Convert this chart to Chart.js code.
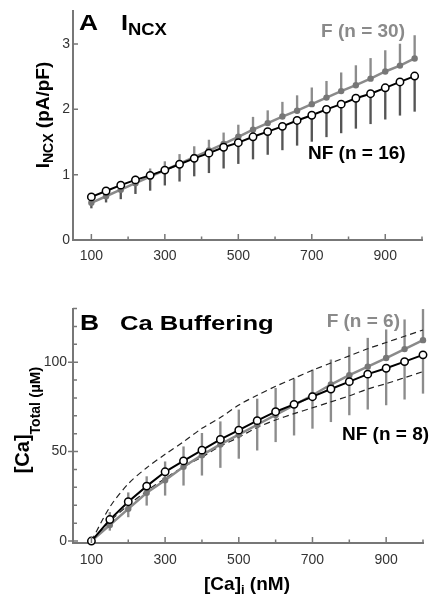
<!DOCTYPE html>
<html>
<head>
<meta charset="utf-8">
<script src="https://cdn.jsdelivr.net/npm/chart.js@4"></script>
<style>
  html, body { margin: 0; padding: 0; background: #fff; }
  #wrap { position: relative; width: 430px; height: 597px; }
  canvas { position: absolute; left: 0; }
</style>
</head>
<body>
<div id="wrap">
  <canvas id="ncx" width="430" height="285" style="top:0"></canvas>
  <canvas id="buf" width="430" height="312" style="top:285px"></canvas>
</div>
<script>
// panel A: I_NCX against [Ca]i, a point every 40 nM
const ncxCa = [100, 140, 180, 220, 260, 300, 340, 380, 420, 460, 500, 540, 580, 620, 660, 700, 740, 780, 820, 860, 900, 940, 980];
const ncxF = [0.57, 0.67, 0.77, 0.87, 0.97, 1.07, 1.17, 1.27, 1.37, 1.47, 1.58, 1.69, 1.79, 1.89, 1.98, 2.08, 2.18, 2.28, 2.37, 2.47, 2.58, 2.67, 2.78];
const ncxFTop = [0.65, 0.76, 0.87, 0.98, 1.09, 1.20, 1.31, 1.43, 1.53, 1.64, 1.76, 1.88, 1.98, 2.11, 2.21, 2.33, 2.43, 2.56, 2.67, 2.78, 2.90, 3.00, 3.13];
const ncxNF = [0.66, 0.75, 0.84, 0.92, 0.99, 1.07, 1.16, 1.25, 1.33, 1.42, 1.49, 1.58, 1.66, 1.74, 1.83, 1.91, 2.00, 2.08, 2.17, 2.24, 2.33, 2.42, 2.51];
const ncxNFLow = [0.49, 0.58, 0.63, 0.71, 0.76, 0.84, 0.90, 0.98, 1.03, 1.10, 1.17, 1.24, 1.31, 1.38, 1.45, 1.51, 1.58, 1.64, 1.71, 1.78, 1.85, 1.91, 1.97];

// panel B: total Ca against [Ca]i, a point every 50 nM
const bufCa = [100, 150, 200, 250, 300, 350, 400, 450, 500, 550, 600, 650, 700, 750, 800, 850, 900, 950, 1000];
const bufF = [0, 9, 18, 27, 34, 41.5, 48, 54, 59.5, 65, 70.5, 76, 81.5, 87.5, 92.7, 97.5, 102.3, 107.3, 112.3];
const bufFTop = [0, 16, 27, 36, 44.3, 52.7, 60.2, 66.7, 73.3, 79.4, 85.4, 90.5, 95.7, 101.3, 108.4, 113.4, 118.1, 123.7, 129.5];
const bufNF = [0, 12, 22, 30.7, 38.7, 44.8, 50.8, 56.8, 62, 67.3, 72.3, 76.4, 80.7, 85, 89.1, 93.3, 96.6, 100.3, 104.1];
const bufNFLow = [0, 6, 13.5, 20, 25.6, 31.2, 36.8, 41.1, 46.2, 50.8, 55.5, 59.2, 63, 66.7, 70.5, 73.7, 76.1, 79.3, 82.6];
const bufFitHigh = [0, 19, 32, 41, 48.5, 55.5, 63, 69, 76, 81.5, 86.5, 91, 95.5, 99.5, 103.5, 107.5, 111, 114.5, 118];
const bufFitLow = [0, 11, 20, 28, 35, 41.5, 47, 53, 58, 63.5, 67.7, 71.2, 74.5, 77.8, 81.2, 85, 88, 91.3, 94.7];

const xTickLabels = [100, 300, 500, 700, 900];
const xMinor = [200, 400, 600, 800, 1000];
const ncxYTicks = [0, 1, 2, 3];
const bufYTicks = [0, 50, 100];
const bufYMinor = [10, 20, 30, 40, 60, 70, 80, 90, 110, 120, 130];

const FONT = '"Liberation Sans", Arial, Helvetica, sans-serif';
const AXIS = '#777';
const GREY = '#8a8a8a';

function pts(xs, ys) { return xs.map((x, i) => ({ x: x, y: ys[i] })); }
function spans(xs, lo, hi) { return xs.map((x, i) => ({ x: x, y: [lo[i], hi[i]] })); }

// tick marks that point into the plot, as in the figure
const inTicks = {
  id: 'inTicks',
  afterDraw(chart, args, o) {
    const ctx = chart.ctx, x = chart.scales.x, y = chart.scales.y;
    ctx.save();
    ctx.strokeStyle = AXIS;
    ctx.lineWidth = 1.5;
    ctx.beginPath();
    (o.xMajor || []).forEach(v => { const p = x.getPixelForValue(v); ctx.moveTo(p, y.bottom); ctx.lineTo(p, y.bottom - 6); });
    (o.xMinor || []).forEach(v => { const p = x.getPixelForValue(v); ctx.moveTo(p, y.bottom); ctx.lineTo(p, y.bottom - 3.5); });
    (o.yMajor || []).forEach(v => { const p = y.getPixelForValue(v); ctx.moveTo(x.left - o.yOut, p); ctx.lineTo(x.left + 5, p); });
    (o.yMinor || []).forEach(v => { const p = y.getPixelForValue(v); ctx.moveTo(x.left, p); ctx.lineTo(x.left + 4, p); });
    ctx.stroke();
    ctx.restore();
  }
};

// panel letters, group labels and axis titles (with subscripts)
const annot = {
  id: 'annot',
  afterDraw(chart, args, o) {
    const ctx = chart.ctx;
    o.items.forEach(it => {
      ctx.save();
      ctx.translate(it.x, it.y);
      if (it.rot) ctx.rotate(it.rot);
      if (it.sx) ctx.scale(it.sx, 1);
      ctx.fillStyle = it.color || '#000';
      ctx.textBaseline = 'alphabetic';
      ctx.textAlign = 'left';
      let w = 0;
      it.parts.forEach(p => { ctx.font = 'bold ' + p.size + 'px ' + FONT; w += ctx.measureText(p.t).width; });
      let cx = it.align === 'right' ? -w : it.align === 'center' ? -w / 2 : 0;
      it.parts.forEach(p => {
        ctx.font = 'bold ' + p.size + 'px ' + FONT;
        ctx.fillText(p.t, cx, p.dy || 0);
        cx += ctx.measureText(p.t).width;
      });
      ctx.restore();
    });
  }
};

function barSet(data, color) {
  return { type: 'bar', data: data, backgroundColor: color, borderWidth: 0, barThickness: 1.7, grouped: false, clip: false, order: 6 };
}
function nfLine(data) {
  return { type: 'line', data: data, borderColor: '#000', borderWidth: 2, tension: 0, pointRadius: 3.7,
    pointBackgroundColor: '#fff', pointBorderColor: '#000', pointBorderWidth: 1.5, clip: false, order: 1 };
}
function fLine(data) {
  return { type: 'line', data: data, borderColor: GREY, borderWidth: 2.5, tension: 0, pointRadius: 3.2,
    pointBackgroundColor: '#777', pointBorderWidth: 0, clip: false, order: 2 };
}
function fitLine(data) {
  return { type: 'line', data: data, borderColor: '#222', borderWidth: 1.2, borderDash: [6, 4], tension: 0.3,
    pointRadius: 0, clip: false, order: 3 };
}

function xScale(height, pad) {
  return {
    type: 'linear', min: 50, max: 1000, offset: false,
    grid: { display: false, drawTicks: false },
    border: { display: true, color: AXIS, width: 2 },
    ticks: { font: { family: FONT, size: 14 }, color: '#333', padding: pad, maxRotation: 0, autoSkip: false },
    afterBuildTicks: s => { s.ticks = xTickLabels.map(v => ({ value: v })); },
    afterFit: s => { s.height = height; }
  };
}
function yScale(min, max, ticks, pad) {
  return {
    type: 'linear', min: min, max: max,
    grid: { display: false, drawTicks: false },
    border: { display: true, color: AXIS, width: 2 },
    ticks: { font: { family: FONT, size: 14 }, color: '#333', padding: pad, autoSkip: false },
    afterBuildTicks: s => { s.ticks = ticks.map(v => ({ value: v })); },
    afterFit: s => { s.width = 73; }
  };
}

new Chart(document.getElementById('ncx'), {
  type: 'line',
  data: {
    datasets: [
      barSet(spans(ncxCa, ncxF, ncxFTop), '#8c8c8c'),
      barSet(spans(ncxCa, ncxNFLow, ncxNF), '#555'),
      fLine(pts(ncxCa, ncxF)),
      nfLine(pts(ncxCa, ncxNF))
    ]
  },
  options: {
    responsive: false,
    animation: false,
    layout: { padding: { left: 0, right: 8, top: 7, bottom: 0 } },
    scales: { x: xScale(45, 8), y: yScale(0, 3.5, ncxYTicks, 3) },
    plugins: {
      legend: { display: false },
      tooltip: { enabled: false },
      inTicks: { xMajor: xTickLabels, xMinor: xMinor, yMajor: ncxYTicks, yOut: 0 },
      annot: { items: [
        { x: 79, y: 30, sx: 1.2, parts: [{ t: 'A', size: 22 }] },
        { x: 121, y: 30, sx: 1.15, parts: [{ t: 'I', size: 22 }, { t: 'NCX', size: 16, dy: 5 }] },
        { x: 405, y: 37, align: 'right', color: GREY, parts: [{ t: 'F (n = 30)', size: 19 }] },
        { x: 308, y: 159, parts: [{ t: 'NF (n = 16)', size: 19 }] },
        { x: 49, y: 115, rot: -Math.PI / 2, align: 'center', parts: [{ t: 'I', size: 19 }, { t: 'NCX', size: 14, dy: 4 }, { t: ' (pA/pF)', size: 19 }] }
      ] }
    }
  },
  plugins: [inTicks, annot]
});

new Chart(document.getElementById('buf'), {
  type: 'line',
  data: {
    datasets: [
      barSet(spans(bufCa, bufF, bufFTop), '#8c8c8c'),
      barSet(spans(bufCa, bufNFLow, bufNF), '#8c8c8c'),
      fitLine(pts(bufCa, bufFitHigh)),
      fitLine(pts(bufCa, bufFitLow)),
      fLine(pts(bufCa, bufF)),
      nfLine(pts(bufCa, bufNF))
    ]
  },
  options: {
    responsive: false,
    animation: false,
    layout: { padding: { left: 0, right: 7, top: 23.5, bottom: 0 } },
    scales: { x: xScale(54, 9), y: yScale(-1.1, 130, bufYTicks, 6) },
    plugins: {
      legend: { display: false },
      tooltip: { enabled: false },
      inTicks: { xMajor: xTickLabels, xMinor: xMinor, yMajor: bufYTicks, yMinor: bufYMinor, yOut: 5 },
      annot: { items: [
        { x: 80, y: 45, sx: 1.2, parts: [{ t: 'B', size: 22 }] },
        { x: 120, y: 45, sx: 1.22, parts: [{ t: 'Ca Buffering', size: 21 }] },
        { x: 400, y: 42, align: 'right', color: GREY, parts: [{ t: 'F (n = 6)', size: 19 }] },
        { x: 342, y: 155, parts: [{ t: 'NF (n = 8)', size: 19 }] },
        { x: 29, y: 135, rot: -Math.PI / 2, align: 'center', parts: [{ t: '[Ca]', size: 20 }, { t: 'Total', size: 14, dy: 11 }, { t: ' (\u00b5M)', size: 15, dy: 11 }] },
        { x: 247, y: 305, align: 'center', parts: [{ t: '[Ca]', size: 19 }, { t: 'i', size: 13, dy: 4 }, { t: ' (nM)', size: 19 }] }
      ] }
    }
  },
  plugins: [inTicks, annot]
});
</script>
</body>
</html>
